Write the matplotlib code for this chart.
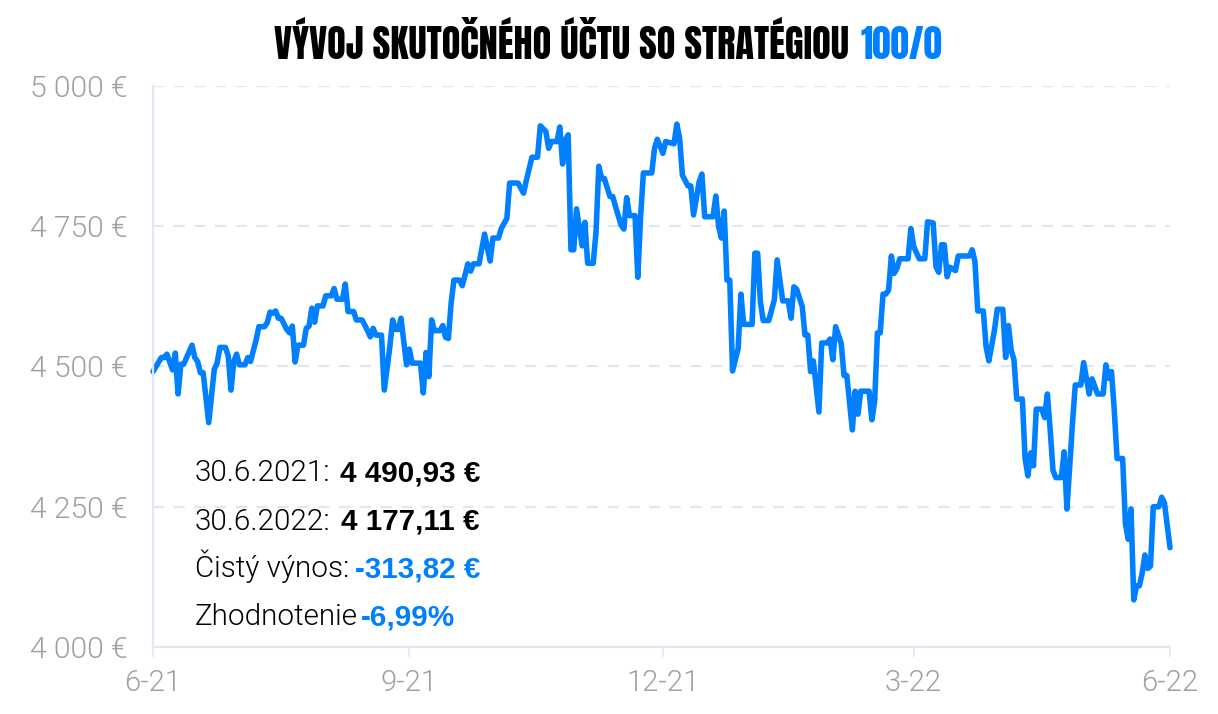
import matplotlib
matplotlib.use("Agg")
import matplotlib.pyplot as plt

days = [0,3,4,5,7,8,9,10,11,14,15,16,17,18,20,22,23,24,26,27,28,29,30,31,33,34,35,37,38,40,41,42,43,44,45,46,48,49,50,51,52,54,55,56,57,58,59,61,62,64,65,66,68,69,70,72,73,75,76,78,79,80,82,83,85,86,87,88,89,91,92,93,96,97,98,99,100,101,103,104,105,106,107,108,110,111,112,113,114,115,117,119,121,122,124,125,127,128,131,133,134,136,138,139,141,142,143,145,146,147,148,149,150,151,152,154,155,156,158,159,160,161,162,164,165,166,168,169,170,171,173,174,175,176,179,180,181,183,184,187,188,189,190,192,193,194,196,197,198,201,202,203,204,205,206,207,208,210,211,212,215,216,217,218,219,221,223,224,226,228,229,230,231,233,234,235,236,237,239,240,242,243,244,245,247,248,249,251,252,253,254,257,258,259,260,261,262,263,264,265,266,267,268,271,272,273,275,277,278,280,281,282,283,284,285,286,288,289,293,294,295,296,298,299,300,302,303,305,306,307,308,309,310,312,313,314,315,316,317,319,320,321,322,323,324,326,327,328,329,330,331,333,334,336,337,339,341,342,343,344,345,346,348,349,350,351,352,353,354,355,356,357,358,359,361,362,363,365]
values = [4491,4516,4516,4522,4494,4524,4451,4504,4504,4538,4516,4509,4489,4489,4400,4495,4506,4534,4534,4519,4458,4509,4522,4503,4503,4516,4509,4547,4571,4571,4578,4597,4595,4599,4586,4586,4566,4560,4572,4508,4538,4538,4568,4572,4604,4579,4608,4608,4626,4626,4639,4620,4620,4647,4598,4598,4583,4583,4574,4553,4568,4556,4556,4458,4535,4583,4566,4566,4586,4503,4531,4506,4506,4453,4525,4482,4583,4564,4564,4573,4552,4550,4613,4654,4654,4644,4663,4683,4670,4683,4683,4736,4688,4729,4729,4746,4764,4827,4827,4809,4832,4873,4873,4929,4919,4889,4901,4901,4927,4861,4904,4913,4708,4708,4781,4715,4757,4684,4684,4740,4857,4835,4835,4803,4803,4785,4752,4745,4801,4769,4769,4659,4767,4845,4845,4889,4905,4880,4901,4897,4932,4907,4841,4822,4822,4770,4829,4843,4767,4767,4804,4749,4729,4777,4654,4654,4492,4532,4629,4575,4575,4702,4702,4615,4582,4582,4619,4690,4617,4617,4586,4642,4638,4607,4556,4556,4491,4510,4419,4542,4542,4549,4512,4571,4541,4484,4484,4387,4456,4415,4456,4456,4405,4437,4560,4560,4629,4629,4636,4697,4666,4675,4692,4692,4746,4714,4692,4692,4758,4756,4678,4668,4717,4717,4660,4677,4671,4697,4697,4708,4687,4599,4599,4535,4510,4565,4602,4602,4516,4573,4529,4512,4442,4442,4336,4305,4346,4323,4424,4424,4409,4451,4387,4315,4302,4302,4348,4246,4321,4399,4467,4467,4507,4451,4478,4451,4451,4503,4479,4491,4422,4336,4336,4220,4192,4246,4084,4109,4109,4131,4164,4140,4144,4250,4250,4267,4257,4177]

x_ticks = [0, 92, 183, 273, 365]
x_labels = ["6-21", "9-21", "12-21", "3-22", "6-22"]
y_ticks = [4000, 4250, 4500, 4750, 5000]
y_labels = ["4 000 €", "4 250 €", "4 500 €", "4 750 €", "5 000 €"]

BLUE = "#0080ff"
GRID = "#e0e6f2"
GRAY = "#a0a0a0"
LIGHT = ["Roboto", "Liberation Sans"]
BOLD = ["Liberation Sans"]
TITLE = ["Anton", "Liberation Sans"]
W, H = 1218, 714

fig = plt.figure(figsize=(W / 100, H / 100), dpi=100)
ax = fig.add_axes([153 / W, 1 - 647 / H, (1170 - 153) / W, (647 - 86) / H])
ax.set_xlim(0, 365)
ax.set_ylim(4000, 5000)
for s in ("top", "right"):
    ax.spines[s].set_visible(False)
for s in ("left", "bottom"):
    ax.spines[s].set_color(GRID)
    ax.spines[s].set_linewidth(1.6)
ax.set_yticks(y_ticks, y_labels, fontsize=21.6, color=GRAY, family=LIGHT, fontweight=300)
ax.set_xticks(x_ticks, x_labels, fontsize=21, color=GRAY, family=LIGHT, fontweight=300)
ax.tick_params(axis="y", length=0, pad=18.5)
ax.tick_params(axis="x", length=7, width=1.2, color=GRID, pad=9)
ax.grid(axis="y", color=GRID, lw=1.6, ls=(0, (5, 4.3)))
ax.set_axisbelow(True)
ax.plot(days, values, color=BLUE, lw=4, solid_joinstyle="round", solid_capstyle="round", clip_on=False)


def line(y, gap, parts):
    x = 195
    r = fig.canvas.get_renderer()
    for txt, col, fam, wt in parts:
        t = fig.text(x / W, 1 - y / H, txt, color=col, fontsize=21.3, fontweight=wt,
                     family=fam, va="baseline", ha="left")
        x = t.get_window_extent(r).x1 + gap


line(481, 10, [("30.6.2021:", "black", LIGHT, 300), ("4 490,93 €", "black", BOLD, "bold")])
line(530, 10, [("30.6.2022:", "black", LIGHT, 300), ("4 177,11 €", "black", BOLD, "bold")])
line(577, 6, [("Čistý výnos:", "black", LIGHT, 300), ("-313,82 €", BLUE, BOLD, "bold")])
line(625, 3, [("Zhodnotenie", "black", LIGHT, 300), ("-6,99%", BLUE, BOLD, "bold")])

r = fig.canvas.get_renderer()
t1 = fig.text(274 / W, 1 - 59 / H, "VÝVOJ SKUTOČNÉHO ÚČTU SO STRATÉGIOU", color="black",
              fontsize=27.5, family=TITLE, va="baseline")
fig.text((t1.get_window_extent(r).x1 + 12) / W, 1 - 59 / H, "100/0", color=BLUE,
         fontsize=26.5, family=TITLE, va="baseline")

fig.savefig("out.png", dpi=100)
